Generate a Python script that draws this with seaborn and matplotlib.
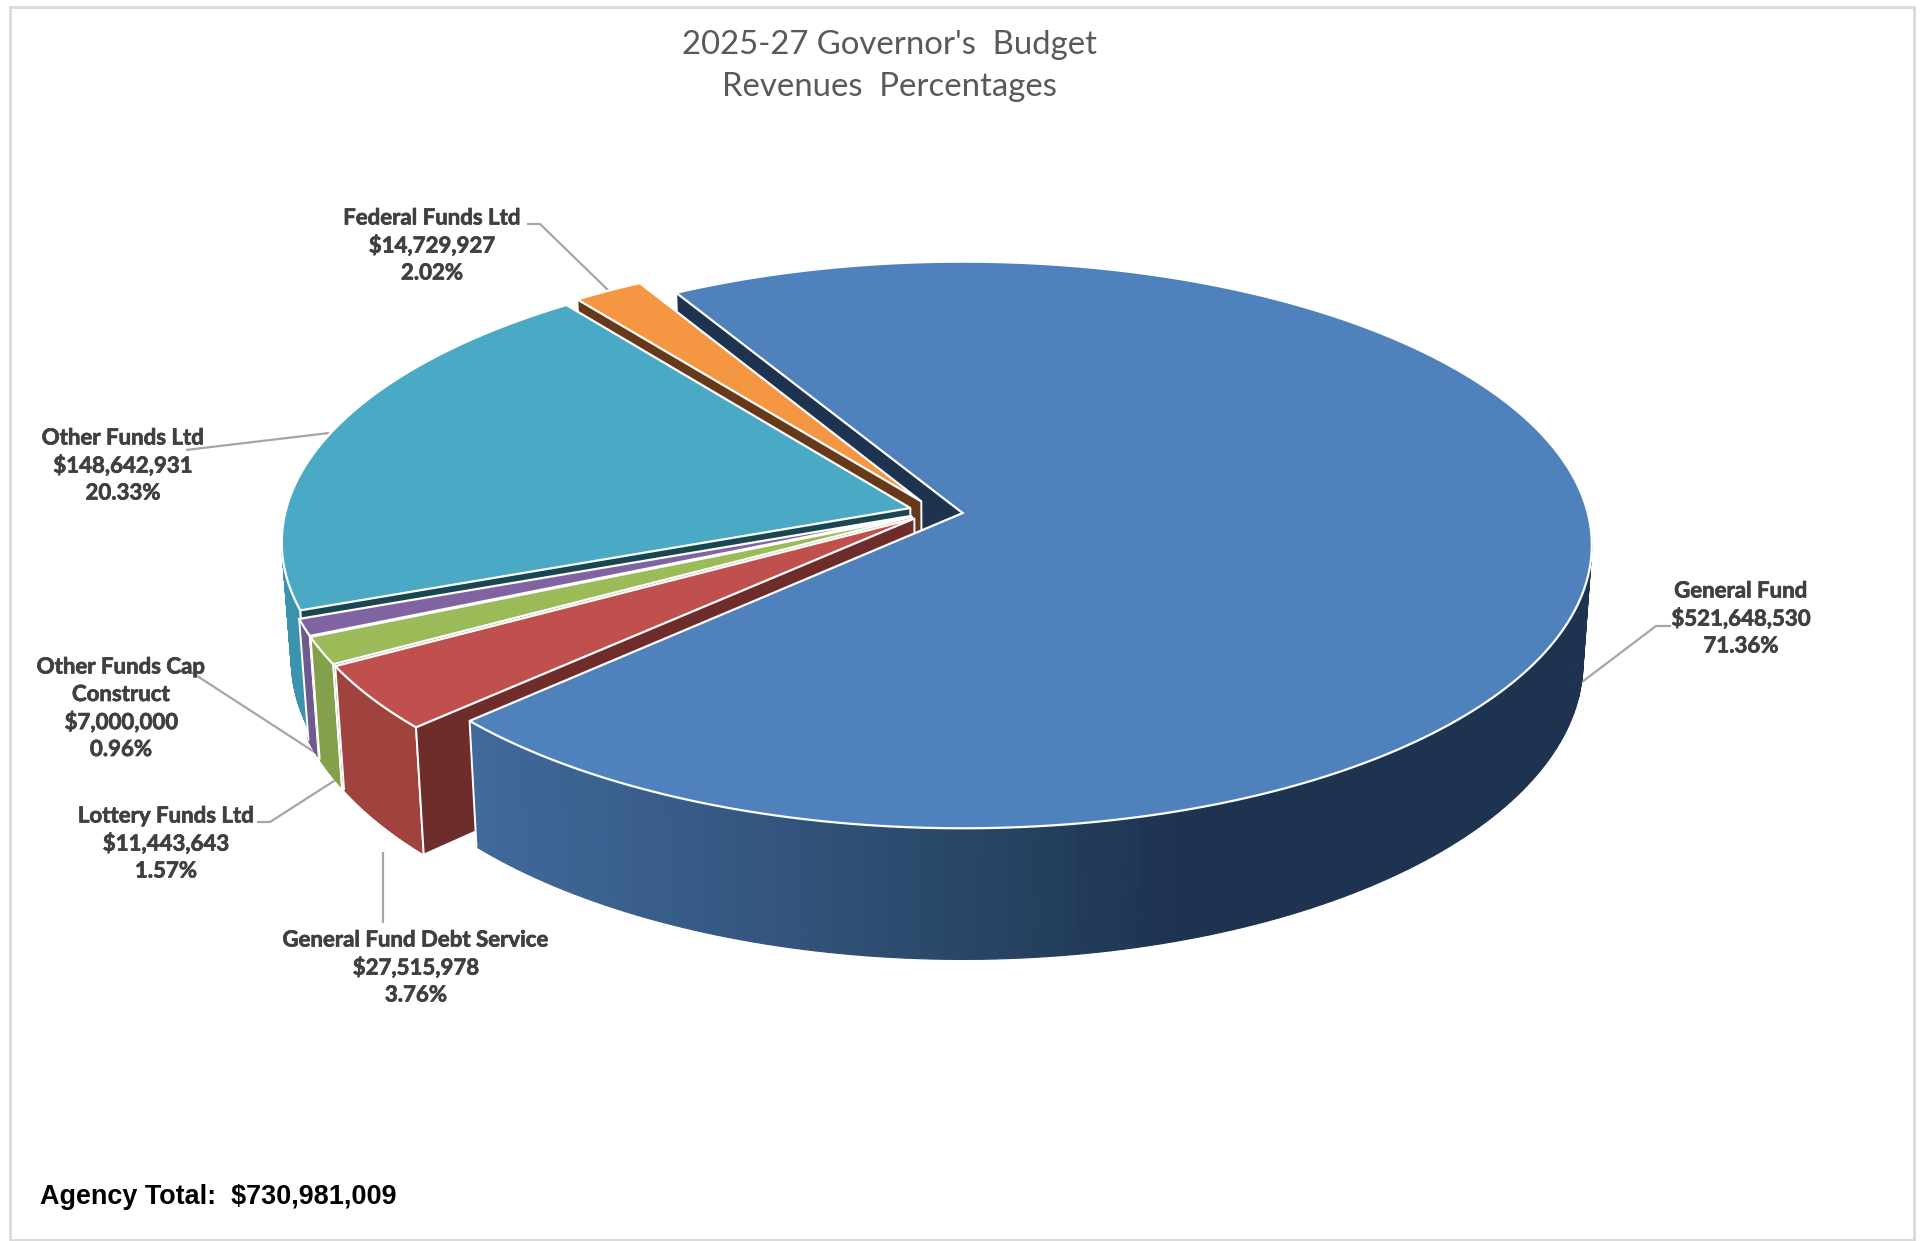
import numpy as np
import matplotlib
matplotlib.use("Agg")
import matplotlib.pyplot as plt
import matplotlib.patheffects as pe
from matplotlib.patches import Polygon, Rectangle
import seaborn as sns

# Revenue sources, clockwise from the start of the pie
sources = ["General Fund", "General Fund Debt Service", "Lottery Funds Ltd",
           "Other Funds Cap\nConstruct", "Other Funds Ltd", "Federal Funds Ltd"]
amounts = [521648530, 27515978, 11443643, 7000000, 148642931, 14729927]
top_colors = ["#4f81bd", "#c0504d", "#9bbb59", "#8064a2", "#4aa9c4", "#f59642"]
wall_colors = ["#41699b", "#a0423e", "#83a04a", "#6f5a90", "#3c93ae", "#d07c32"]
face_colors = ["#1d334f", "#6e2c2b", "#5c7030", "#4b3b62", "#1a4652", "#66391b"]
title_lines = ["2025-27 Governor's  Budget", "Revenues  Percentages"]
total_text = "Agency Total:  $730,981,009"

sns.set_theme(style="white")
plt.rcParams["font.family"] = ["Lato", "DejaVu Sans"]

W, H = 1923, 1241
fig = plt.figure(figsize=(W / 100, H / 100), dpi=100)
ax = fig.add_axes([0, 0, 1, 1])
ax.set_xlim(0, W)
ax.set_ylim(H, 0)
ax.axis("off")

ax.add_patch(Rectangle((9.5, 6.5), 1904, 1233, fill=False, ec="#d9d9d9", lw=2))

# Perspective projection of the pie plane onto the canvas
ORIGIN_X, ORIGIN_Y = 962.7, 513.0
SCALE_X, SCALE_Y, TILT = 625.1, 279.7, 0.1127
DROP, BASE_SX, BASE_SY = 116.0, 0.986, 1.048


def project(px, py, base=False):
    w = 1 + TILT * py
    if base:
        return (ORIGIN_X + SCALE_X * BASE_SX * px / w,
                ORIGIN_Y + DROP - SCALE_Y * BASE_SY * py / w)
    return ORIGIN_X + SCALE_X * px / w, ORIGIN_Y - SCALE_Y * py / w


START_DEG = 329.8
EXPLODE = 0.043
PIE_CENTER = np.array([-0.0426, 0.006])
FACING_LIMIT = -0.05  # rim points further back than this are hidden by the top

values = np.array(amounts, dtype=float)
sweeps = values / values.sum() * 360
starts = START_DEG + np.concatenate([[0], np.cumsum(sweeps)[:-1]])

_z = [2.0]


def zo():
    _z[0] += 0.001
    return _z[0]


def slice_geometry(i, n=240):
    mid = np.radians(starts[i] + sweeps[i] / 2)
    apex = PIE_CENTER + EXPLODE * np.array([np.sin(mid), np.cos(mid)])
    th = np.radians(np.linspace(starts[i], starts[i] + sweeps[i], n))
    return apex, th


def draw_face(i):
    apex, th = slice_geometry(i)
    rx, ry = apex[0] + np.sin(th[0]), apex[1] + np.cos(th[0])
    quad = [project(*apex), project(rx, ry), project(rx, ry, True), project(*apex, True)]
    ax.add_patch(Polygon(quad, fc=face_colors[i], ec="none", zorder=zo()))
    ax.plot(*zip(quad[1], quad[2]), color="white", lw=1.4, zorder=zo())
    ax.plot(*zip(quad[0], quad[3]), color="white", lw=1.4, zorder=zo())


def draw_wall(i, shades=None):
    apex, th = slice_geometry(i)
    keep = np.cos(th) < FACING_LIMIT
    if keep.sum() < 2:
        return
    rx, ry = apex[0] + np.sin(th[keep]), apex[1] + np.cos(th[keep])
    top = np.array([project(a, b) for a, b in zip(rx, ry)])
    bot = np.array([project(a, b, True) for a, b in zip(rx, ry)])
    for j in range(len(rx) - 1):
        c = wall_colors[i]
        if shades is not None:
            frac = np.clip((top[j, 0] - gradient_from) / (gradient_to - gradient_from), 0, 1)
            c = shades[int(frac * (len(shades) - 1))]
        quad = [top[j], top[j + 1], bot[j + 1], bot[j]]
        ax.add_patch(Polygon(quad, fc=c, ec=c, lw=0.8, zorder=zo()))
    # White seams only where the rim really meets a cut face
    if keep[0]:
        ax.plot(*zip(top[0], bot[0]), color="white", lw=1.4, zorder=zo())
    if keep[-1]:
        ax.plot(*zip(top[-1], bot[-1]), color="white", lw=1.4, zorder=zo())


def draw_top(i):
    apex, th = slice_geometry(i)
    pts = [project(*apex)] + [project(apex[0] + np.sin(t), apex[1] + np.cos(t)) for t in th]
    ax.add_patch(Polygon(pts, fc=top_colors[i], ec="white", lw=1.6,
                         joinstyle="miter", zorder=zo()))


# Paint back to front: the big slice's cut face goes first, its top and rim last
gradient_from, gradient_to = 470, 1190
rim_shades = sns.blend_palette(["#41699b", "#365a85", "#2a4769", "#1d334f"], 128)

draw_face(0)
for i in [5, 4, 3, 2, 1]:
    draw_wall(i)
    draw_face(i)
    draw_top(i)
draw_wall(0, rim_shades)
draw_top(0)

# Leader lines from the slices to their labels
leader_color = "#a6a6a6"
leaders = [
    [(1582, 682), (1656, 626), (1671, 626)],
    [(610, 292), (540, 224), (527, 224)],
    [(329, 433), (186, 450)],
    [(319, 755), (191, 672)],
    [(337, 779), (270, 822), (257, 822)],
    [(383, 852), (383, 923)],
]
for path in leaders:
    ax.plot(*zip(*path), color=leader_color, lw=1.6, zorder=1.5, solid_capstyle="butt")

# Value labels, built from the amounts
label_centers = [(1741, 591), (416, 940), (166, 816), (121, 667), (123, 438), (432, 218)]
LINE_STEP = 27.5
heavier = [pe.withStroke(linewidth=0.5, foreground="#404040")]
for name, amount, (lx, ly) in zip(sources, amounts, label_centers):
    text_lines = name.split("\n") + [f"${amount:,}", f"{amount / values.sum() * 100:.2f}%"]
    for n, line in enumerate(text_lines):
        ax.text(lx, ly + n * LINE_STEP, line, ha="center", va="center", fontsize=16,
                fontweight="bold", color="#404040", zorder=9, path_effects=heavier)

for line, y in zip(title_lines, (44.5, 86.5)):
    ax.text(889, y, line, ha="center", va="center", fontsize=23.7, color="#595959", zorder=9)

ax.text(40, 1197, total_text, ha="left", va="center", fontsize=19.45, fontweight="bold",
        color="black", family=["Liberation Sans", "DejaVu Sans"], zorder=9)

fig.savefig("out.png", dpi=100, facecolor="white")
